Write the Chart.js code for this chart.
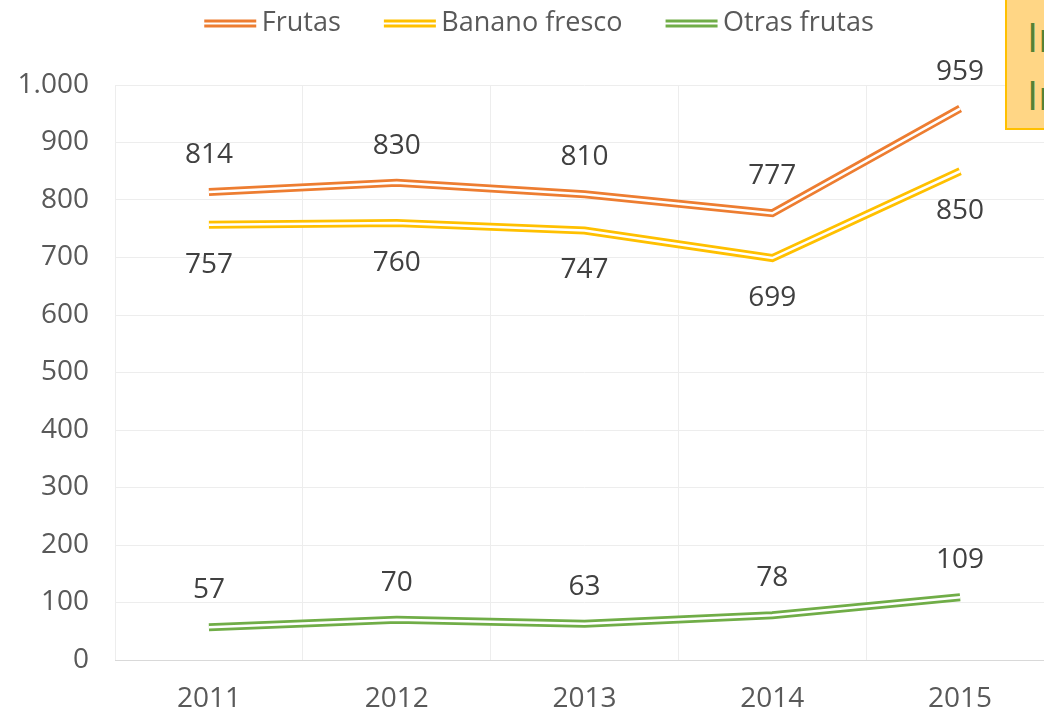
<!DOCTYPE html>
<html>
<head>
<meta charset="utf-8">
<script src="https://cdn.jsdelivr.net/npm/chart.js@4.4.0/dist/chart.umd.min.js"></script>
<style>
  body { margin: 0; overflow: hidden; background: #fff; }
  #wrap { position: relative; width: 1044px; height: 715px; overflow: hidden; }
  #box {
    position: absolute; left: 1005px; top: -2px; width: 80px; height: 132px;
    background: #FFD685; border: 2px solid #FFC000;
    font-family: 'Open Sans', sans-serif; font-size: 40px; color: #548235;
    line-height: 58px; padding: 8px 0 0 20px; box-sizing: border-box;
  }
</style>
</head>
<body>
<div id="wrap">
  <canvas id="chart" width="1060" height="715"></canvas>
  <div id="box">In<br>In</div>
</div>
<script>
const years = ['2011', '2012', '2013', '2014', '2015'];
const frutas = [814, 830, 810, 777, 959];
const banano = [757, 760, 747, 699, 850];
const otras = [57, 70, 63, 78, 109];
const yTicks = [0, 100, 200, 300, 400, 500, 600, 700, 800, 900, 1000];

const FONT = "'Open Sans', sans-serif";
const GAP = '\u00A0\u00A0\u00A0\u00A0\u00A0';

// double line sample for the legend (drawn to the right so the text sits close)
function legendLine(color) {
  const c = document.createElement('canvas');
  c.width = 64; c.height = 10;
  const ctx = c.getContext('2d');
  ctx.fillStyle = color;
  ctx.fillRect(10, 1, 52, 3);
  ctx.fillRect(10, 6, 52, 3);
  return c;
}

const series = [
  { label: 'Frutas', data: frutas, color: '#ED7D31', above: true },
  { label: 'Banano fresco', data: banano, color: '#FFC000', above: false },
  { label: 'Otras frutas', data: otras, color: '#70AD47', above: true }
];

const datasets = [];
series.forEach(s => {
  datasets.push({
    label: s.label, data: s.data, borderColor: s.color, borderWidth: 8,
    pointRadius: 0, pointStyle: legendLine(s.color), tension: 0, order: 2,
    labelAbove: s.above
  });
});
series.forEach(s => {
  datasets.push({
    label: '_inner', data: s.data, borderColor: '#ffffff', borderWidth: 2.5,
    pointRadius: 0, tension: 0, order: 1
  });
});

const valueLabels = {
  id: 'valueLabels',
  afterDatasetsDraw(chart) {
    const ctx = chart.ctx;
    ctx.save();
    ctx.font = '28px ' + FONT;
    ctx.fillStyle = '#404040';
    ctx.textAlign = 'center';
    ctx.textBaseline = 'middle';
    chart.data.datasets.forEach((ds, i) => {
      if (ds.label === '_inner') return;
      chart.getDatasetMeta(i).data.forEach((pt, j) => {
        const dy = ds.labelAbove ? -37 : 40;
        ctx.fillText(ds.data[j], pt.x, pt.y + dy);
      });
    });
    ctx.restore();
  }
};

const legendHeight = {
  id: 'legendHeight',
  beforeInit(chart) {
    const fit = chart.legend.fit;
    chart.legend.fit = function () {
      fit.bind(chart.legend)();
      this.height = 85;
    };
  },
  afterLayout(chart) {
    // nudge legend right and down a bit, like the original
    chart.legend.left += 12;
    chart.legend.right += 12;
    chart.legend.top += 2;
  }
};

new Chart(document.getElementById('chart'), {
  type: 'line',
  data: { labels: years, datasets: datasets },
  plugins: [valueLabels, legendHeight],
  options: {
    responsive: false,
    animation: false,
    layout: { padding: { left: 0, right: 6, top: 0, bottom: 0 } },
    plugins: {
      tooltip: { enabled: false },
      legend: {
        position: 'top',
        labels: {
          usePointStyle: true,
          pointStyleWidth: 44,
          padding: 8,
          color: '#595959',
          font: { family: FONT, size: 27 },
          generateLabels(chart) {
            const items = Chart.defaults.plugins.legend.labels.generateLabels(chart)
              .filter(it => it.text !== '_inner');
            items.forEach((it, k) => { if (k < items.length - 1) it.text += GAP; });
            return items;
          }
        }
      }
    },
    scales: {
      x: {
        offset: true,
        grid: { color: '#EDEDED', offset: true, tickLength: 0 },
        border: { color: '#D9D9D9' },
        ticks: { color: '#595959', font: { family: FONT, size: 28 }, padding: 22 },
        afterFit(scale) { scale.height = 55; }
      },
      y: {
        min: 0, max: 1000,
        afterBuildTicks(scale) { scale.ticks = yTicks.map(v => ({ value: v })); },
        grid: { color: '#EDEDED', tickLength: 0 },
        border: { display: false },
        ticks: {
          color: '#595959', font: { family: FONT, size: 28 }, padding: 26,
          callback: v => v.toLocaleString('de-DE')
        },
        afterFit(scale) { scale.width = 115; }
      }
    }
  }
});
</script>
</body>
</html>
